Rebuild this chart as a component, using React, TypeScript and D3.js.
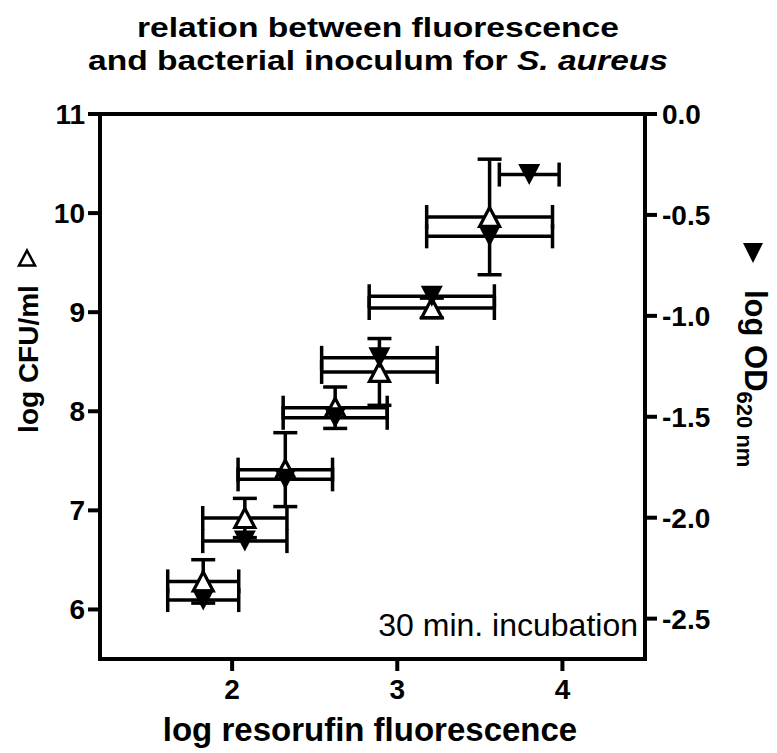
import React from "react";
import * as d3 from "d3";

// ---- data ----
const fluorescence = [1.825, 2.077, 2.322, 2.624, 2.892, 3.209, 3.559, 3.799];
const fluorescenceErr = [0.215, 0.255, 0.286, 0.315, 0.35, 0.379, 0.381, 0.181];
const logCFU = [6.283, 6.923, 7.411, 8.036, 8.397, 9.042, 9.961];
const logCFUErr = [0.219, 0.198, 0.373, 0.209, 0.337, 0.1, 0.583];
const logOD = [-2.408, -2.116, -1.81, -1.505, -1.208, -0.903, -0.606, -0.3];

const xTicks = [2, 3, 4];
const yLeftTicks = [6, 7, 8, 9, 10, 11];
const yRightTicks = [0, -0.5, -1.0, -1.5, -2.0, -2.5];
const yRightLabels = ["0.0", "-0.5", "-1.0", "-1.5", "-2.0", "-2.5"];

const W = 777;
const H = 753;
const L = 100;
const R = 645;
const T = 114;
const B = 659;

const FONT = "'Liberation Sans', Arial, Helvetica, sans-serif";

export default function App() {
  const x = d3.scaleLinear().domain([1.2, 4.5]).range([L, R]);
  const yL = d3.scaleLinear().domain([5.5, 11]).range([B, T]);
  const yR = d3.scaleLinear().domain([-2.7, 0]).range([B, T]);

  const cap = 12;
  const ebW = 3.5;
  const tick = 12;

  const upTri = (w: number, h: number) =>
    `M0,${-h / 2}L${w / 2},${h / 2}L${-w / 2},${h / 2}Z`;
  const downTri = (w: number, h: number) =>
    `M${-w / 2},${-h / 2}L${w / 2},${-h / 2}L0,${h / 2}Z`;

  const hBar = (cx: number, e: number, cy: number, key: string) => {
    const x0 = x(cx - e);
    const x1 = x(cx + e);
    return (
      <g key={key}>
        <line x1={x0} x2={x1} y1={cy} y2={cy} />
        <line x1={x0} x2={x0} y1={cy - cap} y2={cy + cap} />
        <line x1={x1} x2={x1} y1={cy - cap} y2={cy + cap} />
      </g>
    );
  };

  return (
    <svg
      width={W}
      height={H}
      viewBox={`0 0 ${W} ${H}`}
      style={{ position: "absolute", left: 0, top: 0, background: "#fff" }}
      fontFamily={FONT}
    >
      <rect x={0} y={0} width={W} height={H} fill="#fff" />

      {/* title */}
      <text
        x={378}
        y={37}
        textAnchor="middle"
        fontWeight="bold"
        fontSize={28}
        textLength={482}
        lengthAdjust="spacingAndGlyphs"
      >
        relation between fluorescence
      </text>
      <text
        x={378}
        y={70}
        textAnchor="middle"
        fontWeight="bold"
        fontSize={28}
        textLength={580}
        lengthAdjust="spacingAndGlyphs"
      >
        and bacterial inoculum for <tspan fontStyle="italic">S. aureus</tspan>
      </text>

      {/* open triangle series: error bars */}
      <g stroke="#000" strokeWidth={ebW} fill="none">
        {logCFU.map((v, i) => {
          const cx = x(fluorescence[i]);
          const cy = yL(v);
          const y0 = yL(v - logCFUErr[i]);
          const y1 = yL(v + logCFUErr[i]);
          return (
            <g key={"o" + i}>
              {hBar(fluorescence[i], fluorescenceErr[i], cy, "oh" + i)}
              <line x1={cx} x2={cx} y1={y0} y2={y1} />
              <line x1={cx - cap} x2={cx + cap} y1={y0} y2={y0} />
              <line x1={cx - cap} x2={cx + cap} y1={y1} y2={y1} />
            </g>
          );
        })}
      </g>
      {/* open triangle markers */}
      <g stroke="#000" strokeWidth={3.2} fill="#fff" strokeLinejoin="miter">
        {logCFU.map((v, i) => (
          <path
            key={"om" + i}
            d={upTri(20, 19)}
            transform={`translate(${x(fluorescence[i])},${yL(v)})`}
          />
        ))}
      </g>

      {/* filled triangle series */}
      <g stroke="#000" strokeWidth={ebW} fill="none">
        {logOD.map((v, i) =>
          hBar(fluorescence[i], fluorescenceErr[i], yR(v), "fh" + i)
        )}
      </g>
      <g fill="#000" stroke="none">
        {logOD.map((v, i) => (
          <path
            key={"fm" + i}
            d={downTri(22, 21)}
            transform={`translate(${x(fluorescence[i])},${yR(v)})`}
          />
        ))}
      </g>

      {/* frame */}
      <rect
        x={L}
        y={T}
        width={R - L}
        height={B - T}
        fill="none"
        stroke="#000"
        strokeWidth={4}
      />

      {/* ticks */}
      <g stroke="#000" strokeWidth={4}>
        {yLeftTicks.map((t) => (
          <line key={"lt" + t} x1={L - tick} x2={L} y1={yL(t)} y2={yL(t)} />
        ))}
        {yRightTicks.map((t) => (
          <line key={"rt" + t} x1={R} x2={R + tick} y1={yR(t)} y2={yR(t)} />
        ))}
        {xTicks.map((t) => (
          <line key={"xt" + t} x1={x(t)} x2={x(t)} y1={B} y2={B + tick} />
        ))}
      </g>
      <g fontWeight="bold" fontSize={28}>
        {yLeftTicks.map((t) => (
          <text key={"ll" + t} x={L - tick - 3} y={yL(t) + 10} textAnchor="end">
            {t}
          </text>
        ))}
        {yRightTicks.map((t, i) => (
          <text key={"rl" + t} x={R + tick + 5} y={yR(t) + 10} textAnchor="start">
            {yRightLabels[i]}
          </text>
        ))}
        {xTicks.map((t) => (
          <text key={"xl" + t} x={x(t)} y={B + tick + 28} textAnchor="middle">
            {t}
          </text>
        ))}
      </g>

      {/* annotation */}
      <text x={638} y={636} textAnchor="end" fontSize={32}>
        30 min. incubation
      </text>

      {/* x axis title */}
      <text
        x={370}
        y={741}
        textAnchor="middle"
        fontWeight="bold"
        fontSize={33}
      >
        log resorufin fluorescence
      </text>

      {/* left axis title */}
      <text
        transform={`translate(38,359) rotate(-90)`}
        textAnchor="middle"
        fontWeight="bold"
        fontSize={28}
      >
        log CFU/ml
      </text>
      <path
        d={upTri(16, 15)}
        transform="translate(27,258)"
        fill="none"
        stroke="#000"
        strokeWidth={2.5}
      />

      {/* right axis title */}
      <path d={downTri(20, 20)} transform="translate(753,253)" fill="#000" />
      <text
        transform={`translate(745,290) rotate(90)`}
        fontWeight="bold"
        fontSize={31}
      >
        log OD
        <tspan fontSize={22} dy={8}>
          620 nm
        </tspan>
      </text>
    </svg>
  );
}
